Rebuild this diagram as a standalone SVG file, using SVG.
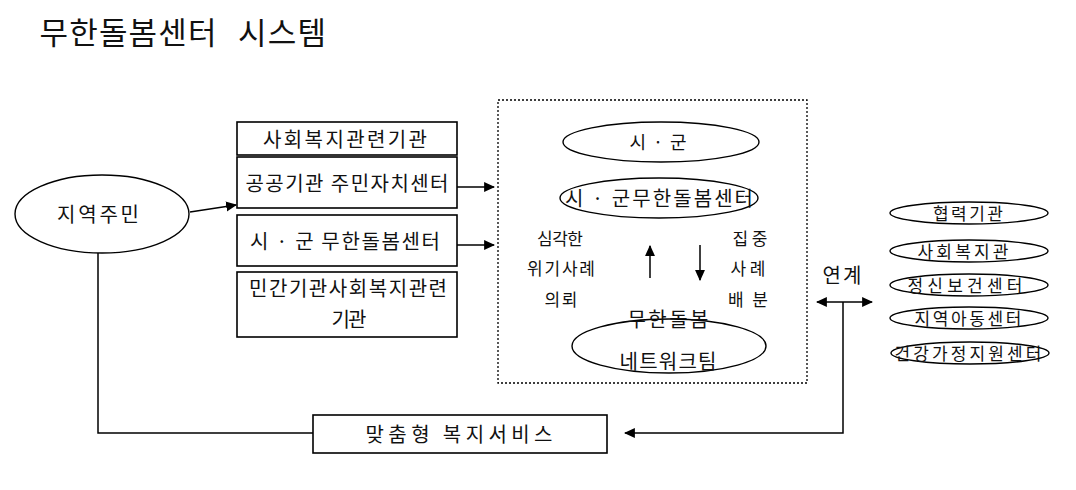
<svg xmlns="http://www.w3.org/2000/svg" width="1076" height="490" viewBox="0 0 1076 490">
<defs>
<marker id="ah" viewBox="0 0 10 10" refX="9" refY="5" markerWidth="11" markerHeight="11" markerUnits="userSpaceOnUse" orient="auto-start-reverse">
<path d="M0,0.5 L10,5 L0,9.5 z" fill="#000"/>
</marker>
<style>
text{font-family:"Noto Sans CJK KR","Noto Sans",sans-serif;fill:#111;text-anchor:middle;dominant-baseline:central}
.box{fill:#fff;stroke:#000;stroke-width:1.6}
.ell{fill:#fff;stroke:#000;stroke-width:1.4}
.ln{fill:none;stroke:#000;stroke-width:1.5}
.t20{font-size:20px}
.t18{font-size:18px}
.t17{font-size:17px}
</style>
</defs>
<rect width="1076" height="490" fill="#fff"/>
<g id="title">
<text x="128" y="30" style="font-size:31px" textLength="177" lengthAdjust="spacing">무한돌봄센터</text>
<text x="282" y="30" style="font-size:31px" textLength="88" lengthAdjust="spacing">시스템</text>
</g>
<g id="dotted-frame">
<rect x="498" y="100" width="309" height="283" fill="none" stroke="#000" stroke-width="1.3" stroke-dasharray="2,2"/>
</g>
<g id="connectors">
<line class="ln" x1="190" y1="212" x2="236" y2="205" marker-end="url(#ah)"/>
<line class="ln" x1="457" y1="187" x2="494" y2="187" marker-end="url(#ah)"/>
<line class="ln" x1="457" y1="245" x2="494" y2="245" marker-end="url(#ah)"/>
<line class="ln" x1="650" y1="278" x2="650" y2="246" marker-end="url(#ah)"/>
<line class="ln" x1="700" y1="245" x2="700" y2="280" marker-end="url(#ah)"/>
<line class="ln" x1="817" y1="302" x2="872" y2="302" marker-start="url(#ah)" marker-end="url(#ah)"/>
<polyline class="ln" points="98,253 98,433 313,433"/>
<polyline class="ln" points="843,302 843,433 625,433" marker-end="url(#ah)"/>
</g>
<g id="node-residents">
<ellipse class="ell" cx="102" cy="214" rx="87" ry="39"/>
<text class="t20" x="98" y="213" textLength="82" lengthAdjust="spacing">지역주민</text>
</g>
<g id="node-welfare-org">
<rect class="box" x="237" y="122" width="220" height="33"/>
<text class="t20" x="345" y="138" textLength="164" lengthAdjust="spacing">사회복지관련기관</text>
</g>
<g id="node-public">
<rect class="box" x="237" y="157" width="220" height="51"/>
<text class="t20" x="347" y="182" textLength="203" lengthAdjust="spacing">공공기관 주민자치센터</text>
</g>
<g id="node-center">
<rect class="box" x="237" y="215" width="220" height="51"/>
<text class="t20" x="345" y="240" textLength="190" lengthAdjust="spacing">시 · 군 무한돌봄센터</text>
</g>
<g id="node-private">
<rect class="box" x="237" y="272" width="220" height="65"/>
<text class="t20" x="348" y="287" textLength="198" lengthAdjust="spacing">민간기관사회복지관련</text>
<text class="t20" x="349" y="318" textLength="35" lengthAdjust="spacing">기관</text>
</g>
<g id="node-sigun">
<ellipse class="ell" cx="661" cy="142" rx="98" ry="20"/>
<text class="t18" x="658" y="141" textLength="57" lengthAdjust="spacing">시 · 군</text>
</g>
<g id="node-sigun-center">
<ellipse class="ell" cx="659" cy="198" rx="99" ry="20"/>
<text class="t20" x="659" y="197" textLength="188" lengthAdjust="spacing">시 · 군무한돌봄센터</text>
</g>
<g id="label-left">
<text class="t17" x="560" y="237" textLength="46" lengthAdjust="spacing">심각한</text>
<text class="t17" x="561" y="267" textLength="68" lengthAdjust="spacing">위기사례</text>
<text class="t17" x="561" y="298" textLength="33" lengthAdjust="spacing">의뢰</text>
</g>
<g id="label-right">
<text class="t17" x="750" y="237" textLength="35" lengthAdjust="spacing">집중</text>
<text class="t17" x="748" y="267" textLength="35" lengthAdjust="spacing">사례</text>
<text class="t17" x="748" y="298" textLength="40" lengthAdjust="spacing">배분</text>
</g>
<g id="node-network">
<ellipse class="ell" cx="669" cy="346" rx="97" ry="27"/>
<text class="t20" x="668" y="318" textLength="81" lengthAdjust="spacing">무한돌봄</text>
<text class="t20" x="668" y="360" textLength="97" lengthAdjust="spacing">네트워크팀</text>
</g>
<g id="label-link">
<text class="t20" x="842" y="274" textLength="39" lengthAdjust="spacing">연계</text>
</g>
<g id="node-partner">
<ellipse class="ell" cx="969" cy="213" rx="79" ry="11"/>
<text class="t17" x="968" y="212" textLength="70" lengthAdjust="spacing">협력기관</text>
</g>
<g id="node-welfare-hall">
<ellipse class="ell" cx="969" cy="251" rx="79" ry="11"/>
<text class="t17" x="963" y="250" textLength="91" lengthAdjust="spacing">사회복지관</text>
</g>
<g id="node-mental">
<ellipse class="ell" cx="969" cy="285" rx="79" ry="11"/>
<text class="t17" x="965" y="284" textLength="115" lengthAdjust="spacing">정신보건센터</text>
</g>
<g id="node-child">
<ellipse class="ell" cx="969" cy="318" rx="79" ry="11"/>
<text class="t17" x="968" y="317" textLength="107" lengthAdjust="spacing">지역아동센터</text>
</g>
<g id="node-family">
<ellipse class="ell" cx="970" cy="353" rx="79" ry="11"/>
<text class="t17" x="968" y="352" textLength="147" lengthAdjust="spacing">건강가정지원센터</text>
</g>
<g id="node-service">
<rect class="box" x="313" y="415" width="294" height="38"/>
<text class="t20" x="459" y="433" textLength="187" lengthAdjust="spacing">맞춤형 복지서비스</text>
</g>
</svg>
